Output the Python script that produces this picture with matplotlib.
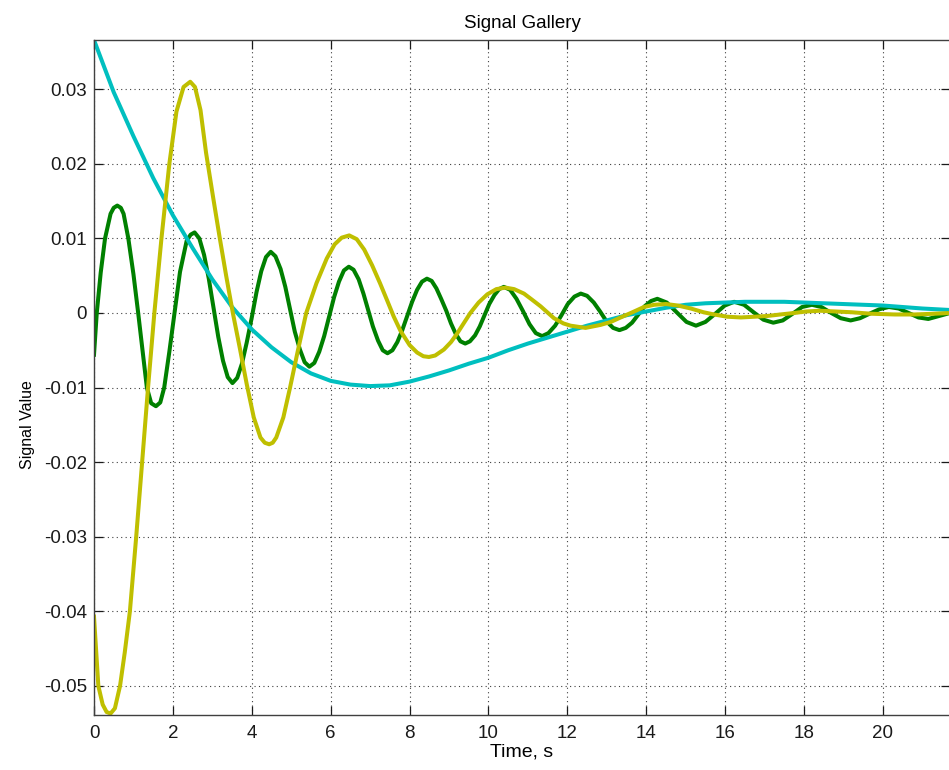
"""
Signal Gallery: three damped responses drawn MATLAB style.
"""

import matplotlib
matplotlib.use("Agg")
import matplotlib.pyplot as plt

# readings (time in s, value)
green_t = [0.00, 0.07, 0.17, 0.28, 0.42, 0.50, 0.59, 0.68, 0.75, 0.87, 1.00, 1.12, 1.24, 1.34,
           1.45, 1.57, 1.68, 1.78, 1.91, 2.04, 2.18, 2.35, 2.45, 2.55,
           2.67, 2.79, 2.91, 3.03, 3.15, 3.27, 3.39, 3.51,
           3.63, 3.75, 3.87, 4.00, 4.12, 4.24, 4.36, 4.48,
           4.60, 4.73, 4.85, 4.97, 5.09, 5.22, 5.34, 5.46,
           5.585, 5.71, 5.835, 5.96, 6.085, 6.21, 6.335, 6.46,
           6.58, 6.71, 6.83, 6.95, 7.07, 7.20, 7.32, 7.44,
           7.565, 7.69, 7.815, 7.94, 8.065, 8.19, 8.315, 8.44,
           8.56, 8.68, 8.80, 8.93, 9.05, 9.17, 9.29, 9.41,
           9.53, 9.66, 9.78, 9.90, 10.02, 10.15, 10.27, 10.39,
           10.55, 10.71, 10.88, 11.04, 11.20, 11.36,
           11.52, 11.69, 11.85, 12.01, 12.18, 12.34,
           12.50, 12.67, 12.83, 12.99, 13.16, 13.32,
           13.48, 13.64, 13.80, 13.96, 14.12, 14.28,
           14.52, 14.77, 15.02, 15.26, 15.50, 15.75, 15.99, 16.23,
           16.48, 16.72, 16.97, 17.22, 17.46, 17.71, 17.95, 18.20,
           18.44, 18.69, 18.93, 19.18, 19.42, 19.66, 19.91, 20.15,
           20.40, 20.65, 20.90, 21.15, 21.42, 21.70]
green_v = [-0.0056, 0.0000, 0.0054, 0.0100, 0.0133, 0.0141, 0.0144, 0.0141, 0.0133, 0.0100, 0.0052, 0.0000,
           -0.0055, -0.0100, -0.0121, -0.0125, -0.0120, -0.0100, -0.0052, 0.0000, 0.0055, 0.0097, 0.0105, 0.0108,
           0.0100, 0.0078, 0.0046, 0.0007, -0.0032, -0.0064, -0.0086, -0.0094,
           -0.0087, -0.0068, -0.0040, -0.0006, 0.0028, 0.0056, 0.0075, 0.0082,
           0.0076, 0.0059, 0.0035, 0.0005, -0.0025, -0.0049, -0.0066, -0.0072,
           -0.0067, -0.0052, -0.0031, -0.0005, 0.0021, 0.0042, 0.0057, 0.0062,
           0.0058, 0.0045, 0.0026, 0.0004, -0.0018, -0.0037, -0.0050, -0.0054,
           -0.0050, -0.0039, -0.0023, -0.0004, 0.0015, 0.0031, 0.0042, 0.0046,
           0.0043, 0.0033, 0.0019, 0.0003, -0.0014, -0.0028, -0.0038, -0.0041,
           -0.0038, -0.0030, -0.0018, -0.0003, 0.0012, 0.0024, 0.0032, 0.0035,
           0.0031, 0.0019, 0.0002, -0.0015, -0.0027, -0.0031,
           -0.0027, -0.0017, -0.0003, 0.0012, 0.0022, 0.0026,
           0.0023, 0.0014, 0.0002, -0.0011, -0.0020, -0.0023,
           -0.0020, -0.0013, -0.0002, 0.0009, 0.0016, 0.0019,
           0.0014, 0.0001, -0.0012, -0.0017, -0.0012, -0.0001, 0.0010, 0.0015,
           0.0011, 0.0001, -0.0009, -0.0013, -0.0010, -0.0001, 0.0008, 0.0011,
           0.0008, 0.0000, -0.0007, -0.0010, -0.0007, -0.0001, 0.0005, 0.0008,
           0.0006, 0.0000, -0.0006, -0.0008, -0.0004, 0.0000]

cyan_t = [0.0, 0.5, 1.0, 1.5, 2.0, 2.5, 3.0, 3.5, 4.0, 4.5, 5.0, 5.5, 6.0, 6.5, 7.0,
          7.5, 8.0, 8.5, 9.0, 9.5, 10.0, 10.5, 11.0, 11.5, 12.0, 12.5, 13.0, 13.5,
          14.0, 14.5, 15.0, 15.5, 16.0, 16.5, 17.0, 17.5, 18.0, 18.5, 19.0, 19.5,
          20.0, 20.5, 21.0, 21.7]
cyan_v = [0.0366, 0.0296, 0.0237, 0.0181, 0.0131, 0.0087, 0.0045, 0.0008, -0.0022,
          -0.0046, -0.0066, -0.0081, -0.0091, -0.0096, -0.0098, -0.0097, -0.0092,
          -0.0085, -0.0077, -0.0068, -0.0060, -0.0050, -0.0041, -0.0033, -0.0025,
          -0.0017, -0.0010, -0.0003, 0.0002, 0.0007, 0.0011, 0.0013, 0.0014, 0.0015,
          0.0015, 0.0015, 0.0014, 0.0013, 0.0012, 0.0011, 0.0010, 0.0008, 0.0006,
          0.0004]

yellow_t = [0.00, 0.11, 0.22, 0.32, 0.42, 0.53, 0.66, 0.78, 0.91, 1.07, 1.22, 1.37,
            1.53, 1.71, 1.91, 2.09, 2.27, 2.44, 2.56, 2.70, 2.84, 3.02, 3.18, 3.35,
            3.52, 3.70, 3.87, 4.05, 4.22, 4.33, 4.44, 4.53, 4.62, 4.80, 4.97, 5.17,
            5.38, 5.64, 5.90, 6.10, 6.28, 6.47, 6.66, 6.85, 7.05, 7.25, 7.43, 7.60,
            7.77, 8.00, 8.19, 8.35, 8.49, 8.65, 8.87, 9.05, 9.20, 9.37, 9.54, 9.75,
            9.97, 10.20, 10.43, 10.65, 10.90, 11.10, 11.32, 11.66, 11.90, 12.08,
            12.46, 12.84, 13.10, 13.35, 13.65, 13.94, 14.20, 14.50, 14.80, 15.13,
            15.45, 15.72, 16.05, 16.40, 16.75, 17.07, 17.40, 17.75, 18.05, 18.40,
            18.80, 19.20, 19.70, 20.30, 20.80, 21.30, 21.70]
yellow_v = [-0.0407, -0.0500, -0.0525, -0.0535, -0.0537, -0.0530, -0.0500, -0.0455,
            -0.0400, -0.0300, -0.0200, -0.0100, 0.0000, 0.0100, 0.0200, 0.0270,
            0.0303, 0.0310, 0.0303, 0.0272, 0.0215, 0.0155, 0.0103, 0.0050, 0.0000,
            -0.0048, -0.0095, -0.0140, -0.0167, -0.0174, -0.0176, -0.0174, -0.0167,
            -0.0140, -0.0100, -0.0050, 0.0000, 0.0040, 0.0073, 0.0092, 0.0101,
            0.0104, 0.0099, 0.0085, 0.0064, 0.0040, 0.0017, -0.0005, -0.0024,
            -0.0043, -0.0053, -0.0058, -0.0059, -0.0057, -0.0049, -0.0039, -0.0028,
            -0.0014, 0.0000, 0.0014, 0.0025, 0.0032, 0.0034, 0.0032, 0.0026, 0.0018,
            0.0009, -0.0007, -0.0014, -0.0017, -0.0020, -0.0016, -0.0012, -0.0006,
            0.0001, 0.0008, 0.0011, 0.0012, 0.0010, 0.0006, 0.0001, -0.0002, -0.0005,
            -0.0006, -0.0005, -0.0004, -0.0002, 0.0000, 0.0002, 0.0003, 0.0002,
            0.0001, -0.0001, -0.0002, -0.0002, -0.0001, 0.0000]

x_ticks = [0, 2, 4, 6, 8, 10, 12, 14, 16, 18, 20]
y_ticks = [-0.05, -0.04, -0.03, -0.02, -0.01, 0.0, 0.01, 0.02, 0.03]
y_tick_labels = ["-0.05", "-0.04", "-0.03", "-0.02", "-0.01", "0", "0.01", "0.02", "0.03"]

plt.rcParams["font.family"] = ["Liberation Sans", "DejaVu Sans"]
plt.rcParams["axes.unicode_minus"] = False

fig = plt.figure(figsize=(9.49, 7.70), dpi=100)
ax = fig.add_axes([94 / 949, 55 / 770, 856 / 949, 675 / 770])

lw = 2.9
ax.plot(green_t, green_v, color=(0.0, 0.5, 0.0), lw=lw, solid_joinstyle="round")
ax.plot(cyan_t, cyan_v, color=(0.0, 0.75, 0.75), lw=lw, solid_joinstyle="round")
ax.plot(yellow_t, yellow_v, color=(0.75, 0.75, 0.0), lw=lw, solid_joinstyle="round")

ax.set_xlim(0, 21.7)
ax.set_ylim(-0.0539, 0.0366)
ax.set_xticks(x_ticks)
ax.set_yticks(y_ticks)
ax.set_yticklabels(y_tick_labels)

ax.grid(True, color="0.25", linestyle=(0, (1, 3)), linewidth=0.8)
ax.tick_params(direction="in", top=True, right=True, length=6.5, width=0.9,
               labelsize=13.5, colors="0.1")
ax.tick_params(axis="y", pad=5)
ax.tick_params(axis="x", pad=7)
for side in ax.spines.values():
    side.set_color("0.25")
    side.set_linewidth(1.0)

ax.set_title("Signal Gallery", fontsize=13.5, pad=9)
ax.set_xlabel("Time, s", fontsize=14, labelpad=1)
ax.set_ylabel("Signal Value", fontsize=11.5)
ax.yaxis.set_label_coords(-0.069, 0.43)

fig.savefig("out.png", dpi=100)
plt.close(fig)
